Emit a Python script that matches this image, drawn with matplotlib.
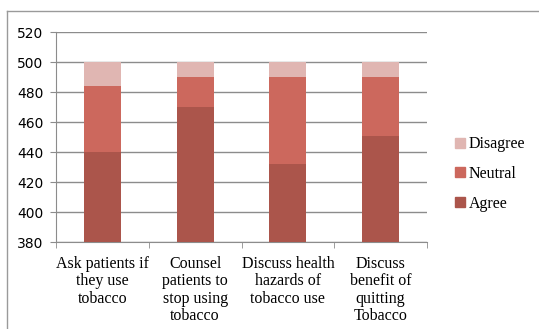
import matplotlib.pyplot as plt
import numpy as np
from matplotlib.lines import Line2D

categories = ["Ask patients if\nthey use\ntobacco",
              "Counsel\npatients to\nstop using\ntobacco",
              "Discuss health\nhazards of\ntobacco use",
              "Discuss\nbenefit of\nquitting\nTobacco"]
agree = [440, 470, 432, 451]
neutral = [44, 20, 58, 39]
disagree = [16, 10, 10, 10]

c_agree = "#AB554B"
c_neutral = "#CC685D"
c_disagree = "#E0B6B2"

fig = plt.figure(figsize=(5.39, 3.29), dpi=100)
ax = fig.add_axes([56/539, 1 - 242/329, (427 - 56)/539, (242 - 32)/329])

x = np.arange(len(categories))
base = 380
a = np.array(agree)
n = np.array(neutral)
d = np.array(disagree)
ax.bar(x, a - base, 0.4, bottom=base, color=c_agree, label="Agree", zorder=3)
ax.bar(x, n, 0.4, bottom=a, color=c_neutral, label="Neutral", zorder=3)
ax.bar(x, d, 0.4, bottom=a + n, color=c_disagree, label="Disagree", zorder=3)

ax.set_ylim(380, 520)
ax.set_xlim(-0.5, len(categories) - 0.5)
ax.set_yticks(np.arange(380, 521, 20))
ax.yaxis.grid(True, color="#8c8c8c", linewidth=1, zorder=0)
for s in ["top", "right"]:
    ax.spines[s].set_visible(False)
for s in ["left", "bottom"]:
    ax.spines[s].set_color("#8c8c8c")
ax.tick_params(axis="y", length=4, color="#8c8c8c", labelsize=10, pad=5)
ax.set_xticks(x)
ax.set_xticklabels(categories, fontfamily="Liberation Serif", fontsize=11.5,
                   linespacing=1.12)
ax.tick_params(axis="x", length=0, pad=10)
ax.set_xticks(np.arange(-0.5, len(categories)), minor=True)
ax.tick_params(axis="x", which="minor", length=4, color="#8c8c8c")

handles = [Line2D([], [], marker="s", linestyle="", markersize=6.5, color=c)
           for c in [c_disagree, c_neutral, c_agree]]
fig.legend(handles, ["Disagree", "Neutral", "Agree"], loc="center left",
           bbox_to_anchor=(448/539, 1 - 174/329), frameon=False,
           prop={"family": "Liberation Serif", "size": 11.5}, handletextpad=0.2,
           labelspacing=0.85, handlelength=0.7, borderaxespad=0)

# outer chart frame
fig.add_artist(Line2D([7/539, 7/539], [0, 1 - 11/329], color="#9a9a9a", lw=1))
fig.add_artist(Line2D([7/539, 1], [1 - 11/329, 1 - 11/329], color="#9a9a9a", lw=1))

fig.savefig("out.png", dpi=100)
